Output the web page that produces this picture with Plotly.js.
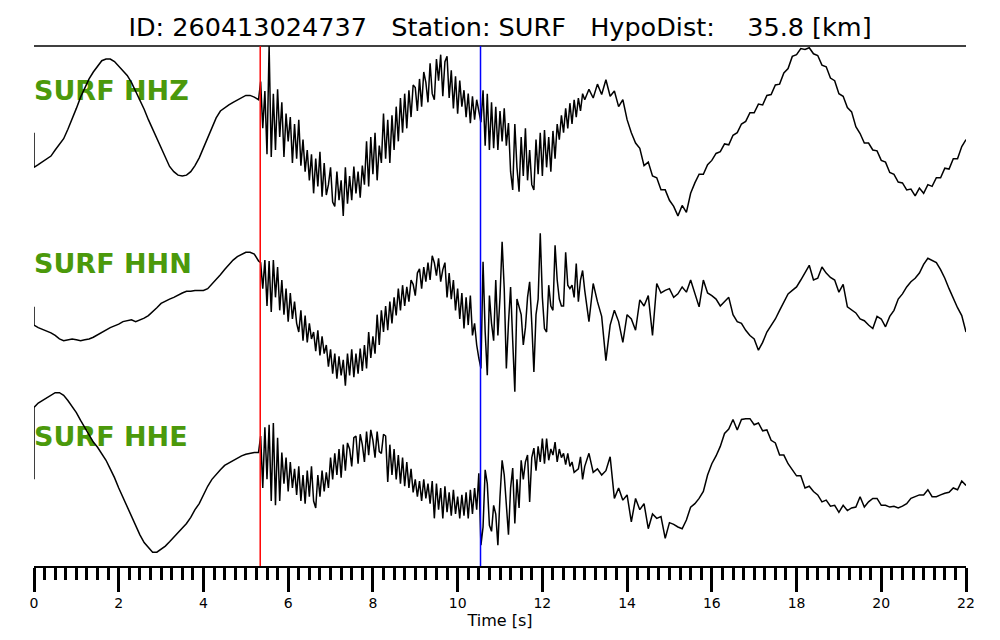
<!DOCTYPE html>
<html>
<head>
<meta charset="utf-8">
<script src="https://cdn.plot.ly/plotly-3.0.1.min.js"></script>
<style>html,body{margin:0;padding:0;background:#fff;}#chart{width:1000px;height:640px;}</style>
</head>
<body>
<div id="chart"></div>
<script>
// Normalised amplitude (percent of trace maximum).
// Segment A: 0.0 .. 5.3 s every 0.1 s ; B: 5.35 .. 12.95 s every 0.05 s ; C: 13.0 .. 22.0 s every 0.1 s
const segStartA = 0.0,  segStepA = 0.1;
const segStartB = 5.35, segStepB = 0.05;
const segStartC = 13.0, segStepC = 0.1;

const channels = ['SURF HHZ', 'SURF HHN', 'SURF HHE'];
const channelOffsets = [4, 2, 0];
const firstSample = [0, -1, 0];   // tapered first sample of each trace at t = 0
const pickP = 5.34;   // red marker (s)
const pickS = 10.54;  // blue marker (s)
const titleText = 'ID: 260413024737\u00a0\u00a0\u00a0Station: SURF\u00a0\u00a0\u00a0HypoDist:\u00a0\u00a0\u00a0\u00a035.8 [km]';
const xTickStep = 2, xMinorStep = 0.25, xMax = 22;

const hhzA = [-40,-37,-34,-31,-27,-20,-13,-7,4,15, 28,41,52,62,70,77,83,85,85,82,
  77,72,66,58,48,38,27,15,4,-8, -19,-30,-39,-45,-49,-50,-49,-45,-38,-29,
  -18,-6,6,17,25,29,32,35,38,41, 43,43,41,38];
const hhzB = [59,5,48,-25,100,-28,45,-20,50,-5,
  35,-28,22,-10,18,-35,10,-30,15,-38,
  -8,-45,-20,-55,-25,-70,-30,-62,-22,-74,
  -35,-72,-60,-40,-80,-85,-45,-78,-55,-96,
  -40,-82,-50,-78,-39,-70,-45,-75,-38,-60,
  -10,-62,-5,-48,0,-55,-15,-35,22,-30,
  15,-35,20,-20,30,-10,40,0,45,5,
  49,18,55,52,25,62,30,70,58,35,
  80,45,38,85,60,90,42,82,88,40,
  72,28,65,22,60,30,49,18,45,11,
  42,15,38,25,12,49,-15,45,-20,35,
  -18,30,-20,25,-10,28,-15,11,-45,-66,
  10,-40,-68,-5,-50,5,-55,-20,-60,-66,
  -8,-48,0,-50,3,-40,-5,-45,2,-30,
  10,-8,20,0,28,5,34,10,38,18,
  40,25,45];
const hhzC = [38,50,40,56,44,61,42,48,30,38,
  15,0,-12,-18,-38,-34,-50,-52,-66,-66,
  -78,-85,-96,-84,-92,-70,-58,-48,-48,-37,
  -32,-24,-22,-13,-14,-3,0,10,13,23,
  23,33,32,43,44,55,56,69,74,88,
  90,97,96,98,91,89,78,76,63,60,
  45,42,29,24,7,-1,-12,-12,-20,-21,
  -32,-34,-46,-48,-57,-58,-66,-65,-73,-64,
  -70,-60,-62,-52,-52,-41,-42,-30,-30,-16,
  -8];

const hhnA = [-22,-25,-27,-29,-31,-34,-38,-40,-39,-38, -39,-40,-39,-38,-36,-33,-30,-28,-25,-23,
  -21,-18,-17,-16,-18,-16,-14,-11,-7,-2, 3,6,8,10,13,15,17,17,18,18,
  18,20,25,30,36,42,48,53,57,60, 62,62,60,52];
const hhnB = [50,20,53,0,52,-7,53,10,45,-5,
  30,-10,20,-18,15,-15,5,-20,-30,-5,
  -40,-11,-42,-20,-38,-30,-52,-28,-57,-35,
  -55,-45,-70,-50,-78,-55,-84,-58,-80,-62,
  -92,-55,-80,-50,-82,-55,-78,-49,-75,-45,
  -72,-30,-60,-35,-55,-10,-45,-5,-30,0,
  -28,5,-20,10,-11,20,-5,24,0,22,
  5,30,25,12,38,43,20,45,28,50,
  30,58,50,35,55,28,42,50,10,38,
  8,30,-5,20,-15,15,-26,10,-22,12,
  -34,-20,-45,-60,-72,51,-30,-80,12,-20,
  -40,30,-34,10,74,20,-72,-20,22,-40,
  -99,8,0,-10,-45,-25,10,28,-20,-76,
  -10,8,84,10,-26,-30,24,0,-5,70,
  30,8,0,0,62,24,20,24,10,49,
  5,30,41];
const hhnC = [18,-18,26,5,-12,-63,-22,-5,-18,-42,
  -10,-15,-28,7,0,12,-34,26,15,18,
  20,10,14,22,16,30,15,-1,30,15,
  12,8,0,5,10,-10,-18,-20,-28,-34,
  -38,-51,-42,-30,-22,-15,-5,5,14,18,
  22,30,38,47,30,32,45,38,33,30,
  16,25,-1,-5,-8,-15,-17,-22,-26,-12,
  -15,-24,-12,-5,8,14,22,28,32,38,
  48,55,52,50,42,32,20,8,-2,-11,
  -30];

const hheA = [83,88,91,95,98,100,100,97,91,84, 77,68,60,52,43,37,30,22,12,2,
  -10,-21,-32,-44,-54,-64,-73,-79,-84,-84, -81,-77,-72,-67,-62,-57,-51,-44,-35,-28,
  -18,-8,0,6,11,16,19,22,25,27, 29,30,31,31];
const hheB = [50,-10,60,0,63,-25,65,-30,48,-25,
  31,-5,25,-14,20,-10,12,-18,15,-25,
  5,-28,10,-20,15,-25,-33,5,-20,10,
  -14,8,-10,25,0,30,5,35,2,40,
  10,42,35,15,48,50,18,52,40,20,
  55,28,57,45,25,55,32,30,52,50,
  -3,40,5,35,0,28,-5,25,-8,20,
  -10,12,-15,0,-20,-2,-25,0,-22,-5,
  -28,-2,-45,-5,-35,-10,-45,-8,-38,-15,
  -42,-12,-40,-20,-45,-18,-42,-15,-45,-12,
  -40,-10,-35,7,-76,-55,11,-5,-53,-60,
  -30,-40,-76,-20,22,5,-30,-64,-10,13,
  -51,0,-33,22,0,20,28,-26,25,36,
  10,38,20,47,18,47,22,35,28,43,
  20,35,25,30,17,30,15,20,8,10,
  12,26,0];
const hheC = [15,30,8,12,5,10,26,-22,-10,-24,
  -18,-49,-22,-35,-28,-57,-40,-45,-43,-68,
  -50,-52,-55,-57,-47,-32,-28,-22,-14,5,
  18,27,38,53,58,69,57,69,70,70,
  63,65,56,57,45,42,28,28,18,11,
  4,4,-10,-8,-14,-18,-26,-24,-31,-30,
  -38,-30,-36,-33,-32,-20,-32,-26,-22,-22,
  -30,-30,-32,-31,-33,-31,-28,-22,-20,-18,
  -18,-12,-20,-20,-18,-16,-15,-10,-12,-2,
  -7];

function sampleTimes(start, step, n) {
  const out = [];
  for (let i = 0; i < n; i++) out.push(Math.round((start + i * step) * 1000) / 1000);
  return out;
}
function buildTrace(first, a, b, c, offset) {
  const x = [].concat([segStartA],
                      sampleTimes(segStartA, segStepA, a.length),
                      sampleTimes(segStartB, segStepB, b.length),
                      sampleTimes(segStartC, segStepC, c.length));
  const y = [].concat([first], a, b, c).map(v => offset + v / 100);
  return {x: x, y: y, type: 'scatter', mode: 'lines',
          line: {color: 'black', width: 1.5}, hoverinfo: 'skip'};
}

const series = [[hhzA, hhzB, hhzC], [hhnA, hhnB, hhnC], [hheA, hheB, hheC]];
const traces = [];
// channel labels first so the waveforms draw over them
channels.forEach((name, i) => {
  traces.push({x: [0], y: [channelOffsets[i] + 0.46], type: 'scatter', mode: 'text',
    text: ['<b>' + name + '</b>'], textposition: 'middle right',
    textfont: {family: 'DejaVu Sans', size: 27, color: '#4b990b'}, hoverinfo: 'skip'});
});
series.forEach((s, i) => traces.push(buildTrace(firstSample[i], s[0], s[1], s[2], channelOffsets[i])));

const layout = {
  width: 1000, height: 640,
  margin: {l: 34, r: 34, t: 46, b: 74, pad: 0},
  paper_bgcolor: 'white', plot_bgcolor: 'white',
  showlegend: false,
  font: {family: 'DejaVu Sans', color: 'black'},
  title: {text: titleText, font: {family: 'DejaVu Sans', size: 25.5, color: 'black'},
          x: 0.5, xanchor: 'center', xref: 'paper', y: 1 - 27 / 640, yanchor: 'middle', yref: 'container'},
  xaxis: {
    range: [0, xMax], tick0: 0, dtick: xTickStep,
    ticks: 'outside', ticklen: 24, tickwidth: 3, tickcolor: 'black',
    showline: true, linecolor: 'black', linewidth: 1.5,
    showgrid: false, zeroline: false,
    tickfont: {family: 'DejaVu Sans', size: 14, color: 'black'},
    minor: {tick0: 0, dtick: xMinorStep, ticks: 'outside', ticklen: 12, tickwidth: 3, tickcolor: 'black', showgrid: false},
    title: {text: 'Time [s]', font: {family: 'DejaVu Sans', size: 16, color: 'black'}, standoff: 0}
  },
  yaxis: {range: [-1, 5], visible: false, showgrid: false, zeroline: false},
  shapes: [
    {type: 'line', xref: 'paper', yref: 'paper', x0: 0, x1: 1, y0: 1, y1: 1, line: {color: 'black', width: 1.5}},
    {type: 'line', xref: 'x', yref: 'paper', x0: pickP, x1: pickP, y0: 0, y1: 1, line: {color: 'red', width: 1.5}},
    {type: 'line', xref: 'x', yref: 'paper', x0: pickS, x1: pickS, y0: 0, y1: 1, line: {color: 'blue', width: 1.5}}
  ]
};

Plotly.newPlot('chart', traces, layout, {staticPlot: true, displayModeBar: false});
</script>
</body>
</html>
